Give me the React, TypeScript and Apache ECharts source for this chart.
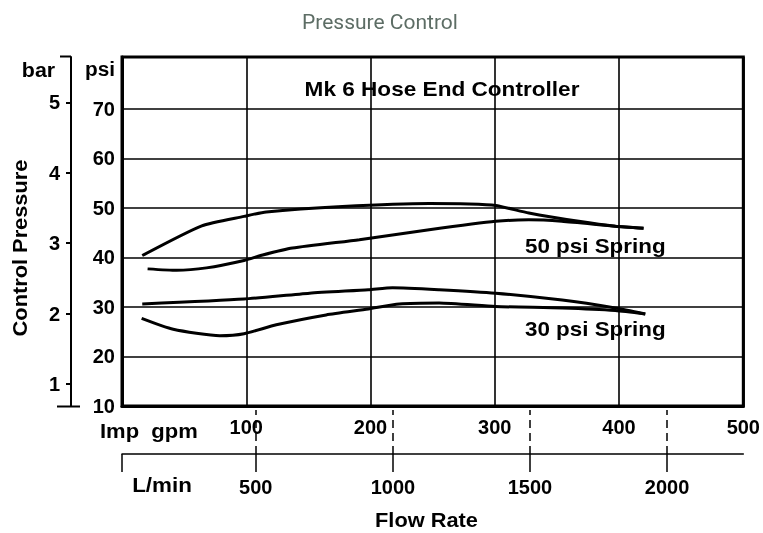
import React, { useEffect, useRef } from 'react';
import * as echarts from 'echarts';

// Axis tick values
const gpmLabels = [100, 200, 300, 400, 500];
const gpmGrid = [0, 100, 200, 300, 400, 500];
const lpmTicks = [500, 1000, 1500, 2000];
const psiTicks = [10, 20, 30, 40, 50, 60, 70];
const barTicks = [1, 2, 3, 4, 5];

// Series: [Imp gpm, psi]
const spring50Upper = [
  [16.3, 40.4], [64.2, 46.4], [98.2, 48.3], [116.1, 49.2], [177.4, 50.3], [247.2, 50.9],
  [279.3, 50.8], [300.7, 50.5], [327.4, 49.0], [367.6, 47.3], [397.0, 46.3], [419.7, 45.9],
];
const spring50Lower = [
  [20.6, 37.7], [43.9, 37.4], [68.0, 37.9], [98.2, 39.4], [113.2, 40.5], [137.2, 41.9],
  [191.0, 43.6], [247.2, 45.6], [300.7, 47.3], [327.4, 47.6], [353.9, 47.3], [397.0, 46.3], [419.7, 45.9],
];
const spring30Upper = [
  [16.3, 30.6], [98.2, 31.6], [150.9, 32.8], [198.2, 33.5], [217.7, 33.9], [255.2, 33.5],
  [300.7, 32.8], [354.2, 31.4], [397.0, 29.8], [421.1, 28.6],
];
const spring30Lower = [
  [15.8, 27.7], [41.2, 25.5], [78.7, 24.2], [98.2, 24.6], [124.2, 26.4], [164.3, 28.4],
  [198.2, 29.6], [223.1, 30.6], [255.2, 30.8], [300.7, 30.1], [354.2, 29.8], [397.0, 29.3], [421.1, 28.6],
];

const FONT = '"Liberation Sans", Arial, Helvetica, sans-serif';

export default function App() {
  const ref = useRef<HTMLDivElement>(null);

  useEffect(() => {
    if (!ref.current) return;
    const chart = echarts.init(ref.current, null, { renderer: 'svg' });
    const plain = (v: number) => String(v);
    const labelStyle = { color: '#000', fontFamily: FONT, fontWeight: 'bold' as const, fontSize: 20, formatter: plain };
    const black = { color: '#000' };
    const txt = (text: string, x: number, y: number, align: string, scaleX: number, extra: any = {}) => ({
      type: 'text', x, y, scaleX, silent: true, ...extra,
      style: { text, fill: '#000', font: `bold 20px ${FONT}`, align, verticalAlign: 'middle' },
    });

    chart.setOption({
      animation: false,
      title: {
        text: 'Pressure Control', left: 297, top: 6,
        textStyle: { fontFamily: 'Roboto', fontWeight: 'normal', fontSize: 21, color: '#5d6d65' },
      },
      grid: { left: 122, right: 18, top: 57, bottom: 127, show: true, borderColor: '#000', borderWidth: 3 },
      xAxis: [
        {
          type: 'value', min: 0, max: 500, position: 'bottom',
          axisLine: { show: true, onZero: false, lineStyle: { ...black, width: 3 } },
          axisTick: { show: false, customValues: gpmGrid },
          splitLine: { show: true, lineStyle: { ...black, width: 1.6 } },
          axisLabel: { ...labelStyle, customValues: gpmLabels, margin: 11 },
        },
        {
          type: 'value', min: 12, max: 2278, position: 'bottom', offset: 48,
          axisLine: { show: true, onZero: false, lineStyle: { ...black, width: 1.5 } },
          axisTick: { show: true, customValues: [12, ...lpmTicks], length: 18, lineStyle: { ...black, width: 1.5 } },
          splitLine: { show: false },
          axisLabel: { ...labelStyle, customValues: lpmTicks, margin: 23 },
        },
        {
          type: 'value', min: 12, max: 2278, position: 'bottom', offset: 48,
          axisLine: { show: false },
          axisTick: { show: true, inside: true, customValues: lpmTicks, length: 44, lineStyle: { ...black, width: 1.5, type: [8, 5] } },
          splitLine: { show: false },
          axisLabel: { show: false },
        },
      ],
      yAxis: [
        {
          type: 'value', min: 10, max: 80.5, position: 'left',
          axisLine: { show: true, onZero: false, lineStyle: { ...black, width: 3 } },
          axisTick: { show: false, customValues: psiTicks },
          splitLine: { show: true, lineStyle: { ...black, width: 1.6 } },
          axisLabel: { ...labelStyle, customValues: psiTicks, margin: 7 },
        },
        {
          type: 'value', min: 0.6875, max: 5.645, position: 'left', offset: 51,
          axisLine: { show: true, onZero: false, lineStyle: { ...black, width: 2 } },
          axisTick: { show: true, customValues: barTicks, length: 5, lineStyle: { ...black, width: 2 } },
          splitLine: { show: false },
          axisLabel: { ...labelStyle, customValues: barTicks, margin: 11 },
        },
      ],
      series: [spring50Upper, spring50Lower, spring30Upper, spring30Lower].map((d) => ({
        type: 'line', data: d, xAxisIndex: 0, yAxisIndex: 0, symbol: 'none', smooth: 0.2,
        silent: true, lineStyle: { color: '#000', width: 3 },
      })),
      graphic: [
        txt('Mk 6 Hose End Controller', 442, 89, 'center', 1.13),
        txt('50 psi Spring', 525, 246, 'left', 1.12),
        txt('30 psi Spring', 525, 329, 'left', 1.12),
        txt('Control Pressure', 20, 248, 'center', 1.09, { rotation: Math.PI / 2 }),
        txt('bar', 38.5, 70, 'center', 1.07),
        txt('psi', 100, 69, 'center', 1.04),
        txt('Imp  gpm', 100, 431, 'left', 1.1),
        txt('L/min', 162, 485, 'center', 1.12),
        txt('Flow Rate', 426.5, 520, 'center', 1.09),
        { type: 'line', silent: true, shape: { x1: 60, y1: 56.5, x2: 71, y2: 56.5 }, style: { stroke: '#000', lineWidth: 2 } },
        { type: 'line', silent: true, shape: { x1: 57, y1: 406.5, x2: 80, y2: 406.5 }, style: { stroke: '#000', lineWidth: 2 } },
      ],
    });
    return () => chart.dispose();
  }, []);

  return <div ref={ref} style={{ position: 'fixed', left: 0, top: 0, width: 763, height: 533 }} />;
}
